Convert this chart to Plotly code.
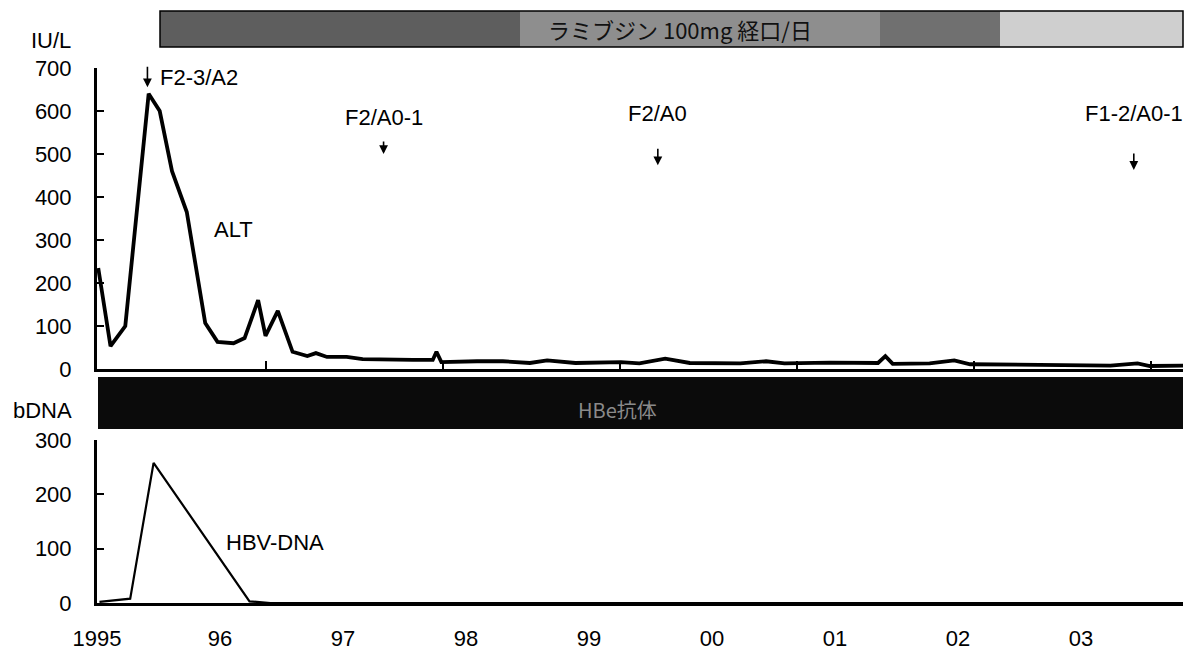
import plotly.graph_objects as go

# ---------------- data ----------------
alt_years = [1995.01, 1995.11, 1995.23, 1995.42, 1995.51, 1995.61, 1995.73, 1995.88,
             1995.98, 1996.11, 1996.20, 1996.31, 1996.37, 1996.47, 1996.59, 1996.71,
             1996.78, 1996.87, 1997.03, 1997.16, 1997.57, 1997.73, 1997.76, 1997.80,
             1998.09, 1998.30, 1998.52, 1998.66, 1998.89, 1999.26, 1999.41, 1999.62,
             1999.82, 2000.23, 2000.44, 2000.59, 2000.96, 2001.35, 2001.41, 2001.47,
             2001.77, 2001.97, 2002.10, 2002.42, 2002.83, 2003.24, 2003.46, 2003.56,
             2003.83]
alt_values = [235, 53, 100, 640, 600, 460, 365, 107,
              63, 60, 72, 160, 77, 135, 40, 30,
              37, 28, 28, 23, 21, 21, 40, 16,
              18, 18, 14, 20, 14, 16, 13, 24,
              14, 13, 18, 13, 15, 14, 30, 12,
              13, 20, 11, 10, 10, 8, 13, 7,
              8]

dna_years = [1995.02, 1995.27, 1995.46, 1996.24, 1996.41, 2003.83]
dna_values = [2, 8, 258, 3, 0, 0]

year_ticks = [1995, 1996, 1997, 1998, 1999, 2000, 2001, 2002, 2003]
year_labels = ["1995", "96", "97", "98", "99", "00", "01", "02", "03"]

alt_ticks = [0, 100, 200, 300, 400, 500, 600, 700]
dna_ticks = [0, 100, 200, 300]

biopsy_years = [1995.41, 1997.33, 1999.56, 2003.43]
biopsy_labels = ["F2-3/A2", "F2/A0-1", "F2/A0", "F1-2/A0-1"]

therapy_label = "ラミブジン 100mg 経口/日"
hbe_label = "HBe抗体"

# ---------------- layout helpers ----------------
W, H = 1194, 654
def px(x):
    return x / W
def py(y):
    return 1 - y / H

FONT = "Liberation Sans, Arial, sans-serif"
JP = "Noto Sans CJK JP"
FS = 22

fig = go.Figure()
fig.add_trace(go.Scatter(x=alt_years, y=alt_values, mode="lines",
                         line=dict(color="black", width=3.8), xaxis="x", yaxis="y",
                         showlegend=False, hoverinfo="skip"))
fig.add_trace(go.Scatter(x=dna_years, y=dna_values, mode="lines",
                         line=dict(color="black", width=2.2), xaxis="x2", yaxis="y2",
                         showlegend=False, hoverinfo="skip"))

xr = [1995, 2003.83]
common_x = dict(range=xr, showgrid=False, zeroline=False, showline=True,
                linecolor="black", linewidth=3, fixedrange=True, automargin=False)
common_y = dict(showgrid=False, zeroline=False, showline=True, linecolor="black",
                linewidth=3, ticks="inside", ticklen=7, tickwidth=2, tickcolor="black",
                tickfont=dict(family=FONT, size=FS, color="black"),
                ticklabelstandoff=18, fixedrange=True, automargin=False)

fig.update_layout(
    template="none",
    width=W, height=H, margin=dict(l=0, r=0, t=0, b=0, pad=0, autoexpand=False),
    paper_bgcolor="white", plot_bgcolor="white",
    font=dict(family=FONT, size=FS, color="black"),
    xaxis=dict(domain=[px(97), px(1183)], anchor="y", ticks="inside", ticklen=8,
               tickwidth=2, tickcolor="black", tick0=1994.94, dtick=1.438,
               showticklabels=False, **common_x),
    yaxis=dict(domain=[py(369), py(68)], anchor="x", range=[0, 700],
               tickvals=alt_ticks, **common_y),
    xaxis2=dict(domain=[px(97), px(1183)], anchor="y2", ticks="",
                tickvals=year_ticks, ticktext=year_labels,
                tickfont=dict(family=FONT, size=FS, color="black"),
                ticklabelstandoff=14, **common_x),
    yaxis2=dict(domain=[py(603), py(440)], anchor="x2", range=[0, 300],
                tickvals=dna_ticks, **common_y),
)

shapes = []
# therapy bar (top)
for x0, x1, col in [(160, 520, "#5e5e5e"), (520, 880, "#8e8e8e"),
                    (880, 1000, "#707070"), (1000, 1183, "#cfcfcf")]:
    shapes.append(dict(type="rect", xref="paper", yref="paper",
                       x0=px(x0), x1=px(x1), y0=py(47), y1=py(11),
                       fillcolor=col, line=dict(width=0), layer="below"))
shapes.append(dict(type="rect", xref="paper", yref="paper",
                   x0=px(160), x1=px(1183), y0=py(47), y1=py(11),
                   fillcolor="rgba(0,0,0,0)", line=dict(color="black", width=1.5)))
# HBe bar (black)
shapes.append(dict(type="rect", xref="paper", yref="paper",
                   x0=px(98), x1=px(1183), y0=py(429), y1=py(377),
                   fillcolor="#0b0b0b", line=dict(width=0)))
fig.update_layout(shapes=shapes)

def note(text, x, y, xref="paper", yref="paper", xanchor="center", font=None):
    return dict(text=text, xref=xref, yref=yref, x=x, y=y, xanchor=xanchor,
                yanchor="middle", showarrow=False,
                font=font or dict(family=FONT, size=FS, color="black"))

ann = []
ann.append(note(therapy_label, px(680), py(29), font=dict(family=JP, size=22, color="#111111")))
ann.append(note(hbe_label, px(617), py(409), font=dict(family=JP, size=20, color="#8a8a8a")))
ann.append(note("IU/L", px(73), py(40), xanchor="right"))
ann.append(note("bDNA", px(74), py(410), xanchor="right"))
ann.append(note("ALT", 1996.11, 325, xref="x", yref="y"))
ann.append(note("HBV-DNA", 1996.45, 111, xref="x2", yref="y2"))

# biopsy markers: (arrow tip y, arrow length px, label y)
marks = [(655, 22, None), (500, 14, 586), (474, 18, 595), (463, 18, 595)]
for yr, lab, (tip, alen, ly) in zip(biopsy_years, biopsy_labels, marks):
    ann.append(dict(text="", xref="x", yref="y", x=yr, y=tip, showarrow=True,
                    ax=0, ay=-alen, arrowhead=2, arrowsize=1.1, arrowwidth=1.6,
                    arrowcolor="black"))
    if ly is None:
        ann.append(note(lab, yr + 0.09, 677, xref="x", yref="y", xanchor="left"))
    else:
        ann.append(note(lab, yr, ly, xref="x", yref="y"))
fig.update_layout(annotations=ann)

fig.write_html("out.html", config={"displayModeBar": False},
               post_script="document.body.style.margin='0';document.body.style.overflow='hidden';")
